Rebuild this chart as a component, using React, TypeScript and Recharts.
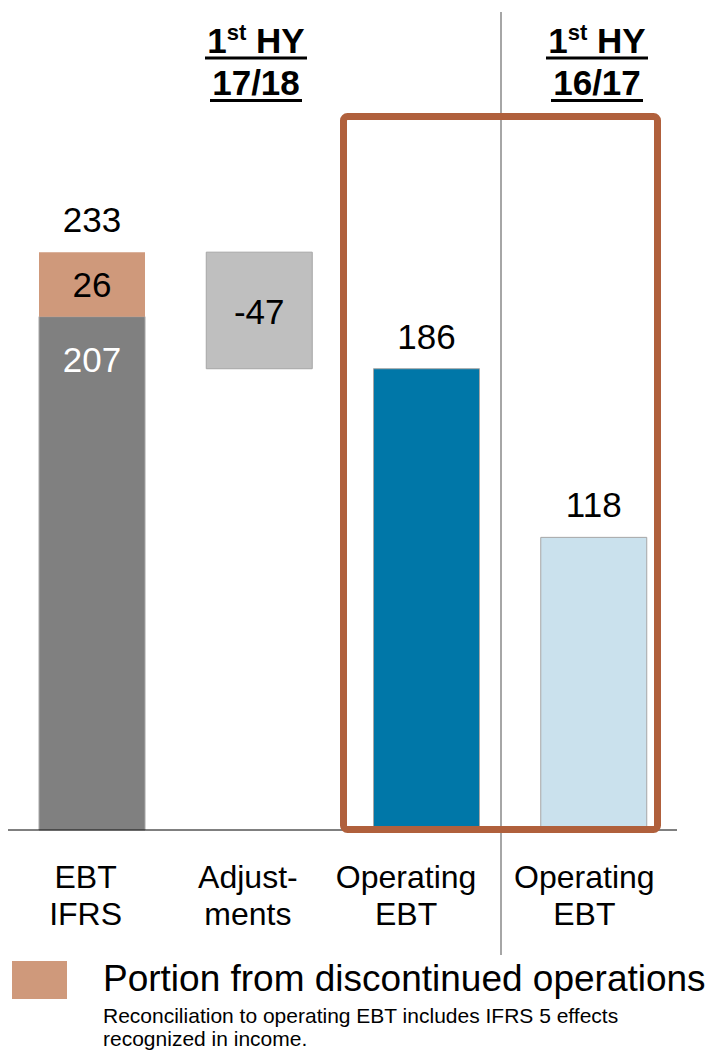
import React from 'react';
import { BarChart, Bar, XAxis, YAxis, Cell, LabelList } from 'recharts';

const categories = ['ebtIfrs', 'adjustments', 'op1718', 'op1617'];
const tickLines = [
  ['EBT', 'IFRS'],
  ['Adjust-', 'ments'],
  ['Operating', 'EBT'],
  ['Operating', 'EBT'],
];
const continuingValues = [207, 0, 186, 118];
const discontinuedValues = [26, 0, 0, 0];
const adjustmentValues = [0, -47, 0, 0];
const barColors = ['#808080', '#bfbfbf', '#0077a8', '#cae1ed'];
const headers = [
  { top: '1', sup: 'st', rest: ' HY', bottom: '17/18' },
  { top: '1', sup: 'st', rest: ' HY', bottom: '16/17' },
];
const legendLabel = 'Portion from discontinued operations';
const footnoteLines = [
  'Reconciliation to operating EBT includes IFRS 5 effects',
  'recognized in income.',
];

const ifrsTotal = continuingValues[0] + discontinuedValues[0];

const data = categories.map((key, i) => {
  const adj = adjustmentValues[i];
  return {
    key,
    base: adj < 0 ? ifrsTotal + adj : 0,
    main: adj < 0 ? -adj : continuingValues[i],
    disc: discontinuedValues[i],
    label: adj < 0 ? adj : continuingValues[i],
    total: continuingValues[i] + discontinuedValues[i],
  };
});

const FONT = '"Liberation Sans", Arial, sans-serif';
const DISC_COLOR = '#cf997b';
const BOX_COLOR = '#b0603c';
// tick labels sit a bit left of the bar centres in the original slide
const tickShift = [-6, -11, -20, -9];

const CategoryTick = (props: any) => {
  const { x, y, index } = props;
  const lines = tickLines[index] || [];
  return (
    <g>
      {lines.map((line, i) => (
        <text
          key={i}
          x={x + (tickShift[index] || 0)}
          y={y + 58 + i * 37}
          textAnchor="middle"
          fontSize={32}
          fontFamily={FONT}
          fill="#000"
        >
          {line}
        </text>
      ))}
    </g>
  );
};

const mainLabel = (props: any) => {
  const { x, y, width, height, index } = props;
  const d = data[index];
  const cx = x + width / 2;
  if (index === 0) {
    return (
      <text x={cx} y={y + 55} textAnchor="middle" fontSize={35} fontFamily={FONT} fill="#fff">
        {d.label}
      </text>
    );
  }
  if (adjustmentValues[index] < 0) {
    return (
      <text x={cx} y={y + height / 2 + 14} textAnchor="middle" fontSize={35} fontFamily={FONT} fill="#000">
        {d.label}
      </text>
    );
  }
  return (
    <text x={cx} y={y - 20} textAnchor="middle" fontSize={35} fontFamily={FONT} fill="#000">
      {d.label}
    </text>
  );
};

const discLabel = (props: any) => {
  const { x, y, width, height, index } = props;
  const d = data[index];
  if (!d.disc) return null;
  const cx = x + width / 2;
  return (
    <g>
      <text x={cx} y={y + height / 2 + 13} textAnchor="middle" fontSize={35} fontFamily={FONT} fill="#000">
        {d.disc}
      </text>
      <text x={cx} y={y - 20} textAnchor="middle" fontSize={35} fontFamily={FONT} fill="#000">
        {d.total}
      </text>
    </g>
  );
};

const App: React.FC = () => {
  const headerX = [256, 597];
  return (
    <div style={{ position: 'absolute', left: 0, top: 0, width: 710, height: 1051, background: '#fff' }}>
      <BarChart
        width={710}
        height={1051}
        data={data}
        margin={{ top: 86, right: 33, bottom: 121, left: 8 }}
        barSize={106}
      >
        <XAxis
          dataKey="key"
          height={100}
          tickSize={0}
          tickMargin={0}
          tickLine={false}
          axisLine={{ stroke: '#000', strokeWidth: 1 }}
          tick={<CategoryTick />}
          interval={0}
        />
        <YAxis hide domain={[0, 300]} />
        <Bar dataKey="base" stackId="a" fill="transparent" isAnimationActive={false} />
        <Bar dataKey="main" stackId="a" stroke="#a6a6a6" strokeWidth={1} isAnimationActive={false}>
          {data.map((_, i) => (
            <Cell key={i} fill={barColors[i]} />
          ))}
          <LabelList dataKey="main" content={mainLabel} />
        </Bar>
        <Bar dataKey="disc" stackId="a" fill={DISC_COLOR} isAnimationActive={false}>
          <LabelList dataKey="disc" content={discLabel} />
        </Bar>
      </BarChart>
      <svg
        width={710}
        height={1051}
        style={{ position: 'absolute', left: 0, top: 0, pointerEvents: 'none' }}
      >
        <line x1={501} y1={12} x2={501} y2={955} stroke="#a6a6a6" strokeWidth={2} />
        <rect
          x={343.5}
          y={116.5}
          width={314}
          height={713}
          rx={4}
          fill="none"
          stroke={BOX_COLOR}
          strokeWidth={7}
        />
        {headers.map((h, i) => (
          <g key={i} fontFamily={FONT} fontWeight="bold" fill="#000">
            <text x={headerX[i]} y={53} textAnchor="middle" fontSize={35}>
              {h.top}
              <tspan fontSize={22} dy={-13}>{h.sup}</tspan>
              <tspan dy={13}>{h.rest}</tspan>
            </text>
            <line x1={headerX[i] - 51} x2={headerX[i] + 51} y1={58} y2={58} stroke="#000" strokeWidth={3} />
            <text x={headerX[i]} y={95} textAnchor="middle" fontSize={35}>
              {h.bottom}
            </text>
            <line x1={headerX[i] - 46} x2={headerX[i] + 46} y1={100.5} y2={100.5} stroke="#000" strokeWidth={3} />
          </g>
        ))}
        <rect x={12} y={961} width={55} height={38} fill={DISC_COLOR} />
        <text x={103} y={991} fontSize={37} fontFamily={FONT} fill="#000">
          {legendLabel}
        </text>
        {footnoteLines.map((line, i) => (
          <text key={i} x={103} y={1023 + i * 23} fontSize={21} fontFamily={FONT} fill="#000">
            {line}
          </text>
        ))}
      </svg>
    </div>
  );
};

export default App;
